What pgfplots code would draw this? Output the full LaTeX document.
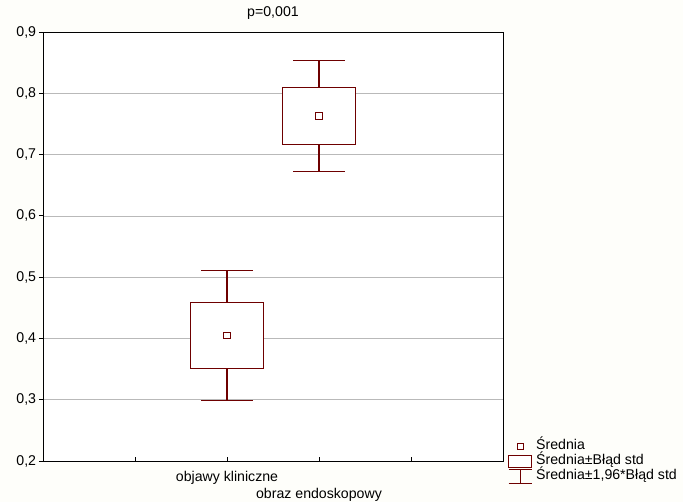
\documentclass[border=0pt]{standalone}
\usepackage{fontspec}
\setmainfont{Liberation Sans}
\usepackage{pgfplots}
\pgfplotsset{compat=1.18}
\definecolor{mar}{RGB}{110,0,0}
\definecolor{bg}{RGB}{254,254,250}
\begin{document}
\fontsize{14.2}{16.5}\selectfont
\begin{tikzpicture}
\fill[bg] (-43bp,-41bp) rectangle (640bp,461bp);
\begin{axis}[
  scale only axis, width=460bp, height=429bp,
  xmin=0, xmax=5, ymin=0.2, ymax=0.9,
  axis background/.style={fill=white},
  axis line style={black, line width=0.8bp},
  ytick={0.2,0.3,0.4,0.5,0.6,0.7,0.8,0.9},
  xtick={1,2,3,4},
  xticklabels={,objawy kliniczne,{\strut\\obraz endoskopowy},},
  xticklabel style={align=center, font=\fontsize{14.2}{16.5}\selectfont, yshift=-5bp},
  yticklabel style={xshift=2bp},
  tick pos=left,
  xtick align=inside, ytick align=outside,
  major tick length=4bp,
  tick style={black, line width=0.8bp},
  ymajorgrids, grid style={gray!55, line width=0.6bp},
  yticklabel style={/pgf/number format/.cd, fixed, fixed zerofill, precision=1, use comma, assume math mode=true},
  title={p=0,001},
  title style={yshift=2bp},
  unbounded coords=jump,
  legend cell align=left,
  legend style={draw=none, fill=none, at={(rel axis cs:1,0)}, anchor=south west,
     xshift=2bp, yshift=-25bp, row sep=0bp, column sep=3bp,
     nodes={inner sep=1bp, text height=10bp, text depth=3bp, anchor=west}},
]
% whiskers (mean +/- 1.96*SE)
\addplot[mar, line width=1.05bp, forget plot, mark=none] coordinates {
  (2,0.459) (2,0.511) (2,nan)
  (1.72,0.511) (2.28,0.511) (2,nan)
  (2,0.351) (2,0.299) (2,nan)
  (1.72,0.299) (2.28,0.299) (2,nan)
  (3,0.809) (3,0.854) (3,nan)
  (2.72,0.854) (3.28,0.854) (3,nan)
  (3,0.717) (3,0.672) (3,nan)
  (2.72,0.672) (3.28,0.672)
};
% boxes (mean +/- SE)
\addplot[mar, line width=1bp, fill=white, forget plot, mark=none] coordinates {
  (1.6,0.351) (2.4,0.351) (2.4,0.459) (1.6,0.459)} -- cycle;
\addplot[mar, line width=1bp, fill=white, forget plot, mark=none] coordinates {
  (2.6,0.717) (3.4,0.717) (3.4,0.809) (2.6,0.809)} -- cycle;
% means
\addplot[only marks, mark=square, mark size=3.2bp, mark options={draw=mar, fill=white, line width=1.2bp}, forget plot]
  coordinates {(2,0.405) (3,0.763)};
\addlegendimage{legend image code/.code={\draw[mar, line width=1.2bp, fill=white] (8.5bp,-3bp) rectangle (14.5bp,3bp);}}
\addlegendentry{Średnia}
\addlegendimage{legend image code/.code={\draw[mar, line width=1bp, fill=white] (0bp,-6bp) rectangle (23bp,6bp);}}
\addlegendentry{Średnia±Błąd std}
\addlegendimage{legend image code/.code={\draw[mar, line width=1bp] (0bp,-7bp)--(23bp,-7bp) (11.5bp,-7bp)--(11.5bp,7bp) (0bp,7bp)--(23bp,7bp);}}
\addlegendentry{Średnia±1,96*Błąd std}
\end{axis}
\pgfresetboundingbox
\path (-43bp,-41bp) rectangle (640bp,461bp);
\end{tikzpicture}
\end{document}
